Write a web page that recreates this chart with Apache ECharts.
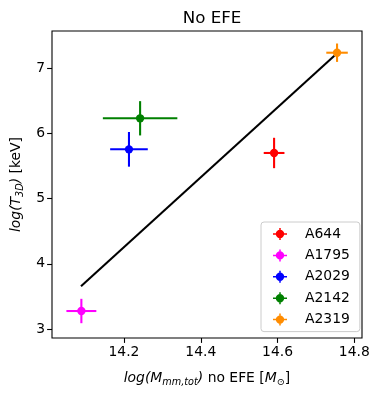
<!DOCTYPE html>
<html>
<head>
<meta charset="utf-8">
<script src="https://cdn.jsdelivr.net/npm/echarts@6/dist/echarts.min.js"></script>
<style>
html,body{margin:0;padding:0;background:#fff;}
#c{width:380px;height:395px;}
</style>
</head>
<body>
<div id="c"></div>
<script>
// ---- data ----
const clusters = ['A644', 'A1795', 'A2029', 'A2142', 'A2319'];
const logM     = [14.591, 14.089, 14.213, 14.242, 14.755];
const logMErr  = [0.027, 0.039, 0.049, 0.097, 0.028];
const logT     = [5.70, 3.276, 5.756, 6.232, 7.238];
const logTErr  = [0.233, 0.187, 0.266, 0.263, 0.141];
const colors   = ['#ff0000', '#ff00ff', '#0000ff', '#008000', '#ff8c00'];
const fitX     = [14.088, 14.748];
const fitY     = [3.655, 7.19];
const xTicks   = [14.2, 14.4, 14.6, 14.8];
const yTicks   = [3, 4, 5, 6, 7];

const FONT = 'DejaVu Sans';
const FS = 13.9;
const LW = 2.08;
const R = 4.17;

const legendIcon = 'path://M0 5.25 L14 5.25 L14 6.75 L0 6.75 Z M6.25 0 L7.75 0 L7.75 12 L6.25 12 Z M11.2 6 A4.2 4.2 0 1 1 2.8 6 A4.2 4.2 0 1 1 11.2 6 Z';

function errRender(params, api) {
  const x = api.value(0), y = api.value(1), ex = api.value(2), ey = api.value(3);
  const c = api.coord([x, y]);
  const l = api.coord([x - ex, y]);
  const r = api.coord([x + ex, y]);
  const t = api.coord([x, y + ey]);
  const b = api.coord([x, y - ey]);
  const color = api.visual('color');
  return {
    type: 'group',
    children: [
      {type: 'line', shape: {x1: l[0], y1: l[1], x2: r[0], y2: r[1]}, style: {stroke: color, lineWidth: LW}},
      {type: 'line', shape: {x1: t[0], y1: t[1], x2: b[0], y2: b[1]}, style: {stroke: color, lineWidth: LW}},
      {type: 'circle', shape: {cx: c[0], cy: c[1], r: R}, style: {fill: color}}
    ]
  };
}

const series = [{
  type: 'line',
  name: 'fit',
  data: fitX.map((x, i) => [x, fitY[i]]),
  symbol: 'none',
  lineStyle: {color: '#000', width: LW},
  itemStyle: {color: '#000'},
  silent: true,
  z: 1
}];
clusters.forEach((name, i) => {
  series.push({
    type: 'custom',
    name: name,
    renderItem: errRender,
    itemStyle: {color: colors[i]},
    encode: {x: 0, y: 1},
    data: [[logM[i], logT[i], logMErr[i], logTErr[i]]],
    z: 2
  });
});

const chart = echarts.init(document.getElementById('c'), null, {renderer: 'canvas'});
chart.setOption({
  animation: false,
  backgroundColor: '#fff',
  textStyle: {fontFamily: FONT},
  title: {
    text: 'No EFE',
    left: 207, top: 5,
    textAlign: 'center',
    textStyle: {fontFamily: FONT, fontSize: 16.7, fontWeight: 'normal', color: '#000'}
  },
  grid: {
    left: 52, right: 18, top: 31, bottom: 57,
    show: true, borderColor: '#000', borderWidth: 1.1, backgroundColor: '#fff'
  },
  legend: {
    data: clusters.map((n, i) => ({name: n, icon: legendIcon, itemStyle: {color: colors[i]}})),
    orient: 'vertical',
    left: 261, top: 222,
    padding: [5, 10, 5, 12],
    itemWidth: 14, itemHeight: 12,
    itemGap: 7.4,
    backgroundColor: 'rgba(255,255,255,0.8)',
    borderColor: '#cccccc', borderWidth: 1, borderRadius: 3,
    selectedMode: false,
    textStyle: {fontFamily: FONT, fontSize: FS, color: '#000', padding: [0, 0, 0, 13]}
  },
  xAxis: {
    type: 'value',
    min: 14.0125, max: 14.82,
    splitLine: {show: false},
    axisLine: {show: false},
    axisTick: {show: true, length: 4.9, inside: false, lineStyle: {color: '#000', width: 1.1}, customValues: xTicks},
    axisLabel: {customValues: xTicks, color: '#000', fontFamily: FONT, fontSize: FS, margin: 7, formatter: v => Number(v).toFixed(1)},
    name: '{i|log(M}{s|mm,tot}{i|)}{n| no EFE [}{i|M}{s|⊙}{n|]}',
    nameLocation: 'middle',
    nameGap: 32,
    nameTextStyle: {
      color: '#000', fontFamily: FONT, fontSize: FS,
      rich: {
        i: {fontStyle: 'italic', fontFamily: FONT, fontSize: FS, color: '#000'},
        n: {fontFamily: FONT, fontSize: FS, color: '#000'},
        s: {fontStyle: 'italic', fontFamily: FONT, fontSize: 9.7, color: '#000', padding: [7, 0, 0, 0]}
      }
    }
  },
  yAxis: {
    type: 'value',
    min: 2.862, max: 7.571,
    splitLine: {show: false},
    axisLine: {show: false},
    axisTick: {show: true, length: 4.9, inside: false, lineStyle: {color: '#000', width: 1.1}, customValues: yTicks},
    axisLabel: {customValues: yTicks, color: '#000', fontFamily: FONT, fontSize: FS, margin: 7, formatter: v => String(Math.round(v))},
    name: '{i|log(T}{s|3D}{i|)}{n| [keV]}',
    nameLocation: 'middle',
    nameGap: 25,
    nameRotate: 90,
    nameTextStyle: {
      color: '#000', fontFamily: FONT, fontSize: FS,
      rich: {
        i: {fontStyle: 'italic', fontFamily: FONT, fontSize: FS, color: '#000'},
        n: {fontFamily: FONT, fontSize: FS, color: '#000'},
        s: {fontStyle: 'italic', fontFamily: FONT, fontSize: 9.7, color: '#000', padding: [7, 0, 0, 0]}
      }
    }
  },
  series: series
});
</script>
</body>
</html>
